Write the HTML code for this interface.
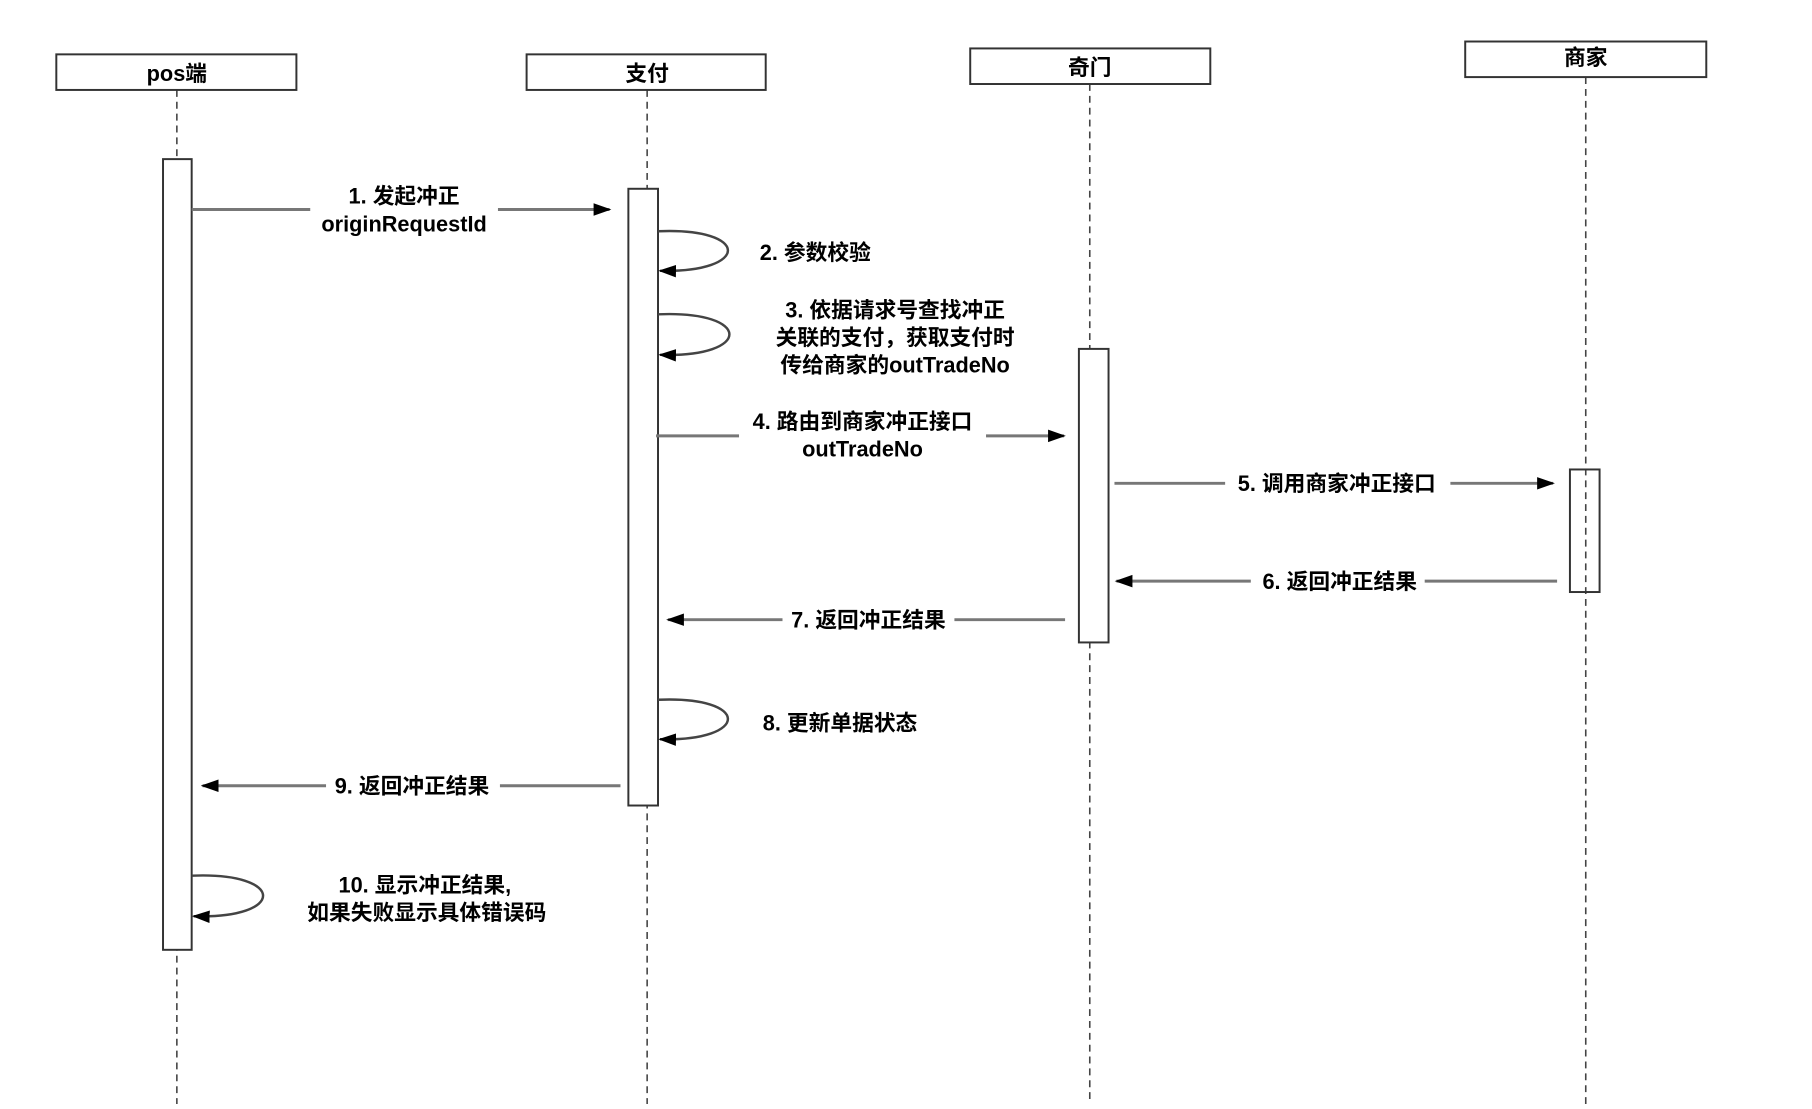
<!DOCTYPE html>
<html><head><meta charset="utf-8"><style>
html,body{margin:0;padding:0;background:#fff}
svg text{font-family:"Liberation Sans","Noto Sans CJK SC",sans-serif;font-weight:bold;font-size:22px;fill:#000}
</style></head><body>
<svg width="1812" height="1104" viewBox="0 0 1834 1117" preserveAspectRatio="none" xmlns="http://www.w3.org/2000/svg">
<defs>
<marker id="b" viewBox="0 0 10 10" refX="9" refY="5" markerWidth="18" markerHeight="18" orient="auto" markerUnits="userSpaceOnUse"><path d="M0,1.5 L10,5 L0,8.5 z" fill="#000"/></marker>
</defs>
<g stroke="#444" stroke-width="1.6" stroke-dasharray="7,5" fill="none">
<line x1="179" y1="91" x2="179" y2="1117"/>
<line x1="655" y1="91" x2="655" y2="1117"/>
<line x1="1103" y1="85" x2="1103" y2="1117"/>
<line x1="1605" y1="78" x2="1605" y2="1117"/>
</g>
<g stroke="#333" stroke-width="2" fill="#fff">
<rect x="57" y="55" width="243" height="36"/>
<rect x="533" y="55" width="242" height="36"/>
<rect x="982" y="49" width="243" height="36"/>
<rect x="1483" y="42" width="244" height="36"/>
<rect x="165" y="161" width="29" height="800"/>
<rect x="636" y="191" width="30" height="624"/>
<rect x="1092" y="353" width="30" height="297"/>
<rect x="1589" y="475" width="30" height="124" fill="none"/>
</g>
<g text-anchor="middle">
<text x="179" y="82">pos端</text>
<text x="655" y="82">支付</text>
<text x="1103" y="76">奇门</text>
<text x="1605" y="66">商家</text>
</g>
<g stroke="#777" stroke-width="3" fill="none">
<line x1="194" y1="212" x2="617" y2="212" marker-end="url(#b)"/>
<line x1="664" y1="441" x2="1077" y2="441" marker-end="url(#b)"/>
<line x1="1128" y1="489" x2="1572" y2="489" marker-end="url(#b)"/>
<line x1="1576" y1="588" x2="1130" y2="588" marker-end="url(#b)"/>
<line x1="1078" y1="627" x2="676" y2="627" marker-end="url(#b)"/>
<line x1="628" y1="795" x2="205" y2="795" marker-end="url(#b)"/>
</g>
<g stroke="#444" stroke-width="2.5" fill="none">
<path d="M666,234 C760,230 760,276 668,274" marker-end="url(#b)"/>
<path d="M666,318 C762,314 762,362 668,359" marker-end="url(#b)"/>
<path d="M666,708 C760,704 760,750 668,748" marker-end="url(#b)"/>
<path d="M194,886 C290,882 290,930 196,927" marker-end="url(#b)"/>
</g>
<g fill="#fff">
<rect x="314" y="178" width="190" height="58"/>
<rect x="748" y="405" width="250" height="58"/>
<rect x="1240" y="474" width="228" height="30"/>
<rect x="1266" y="573" width="176" height="30"/>
<rect x="792" y="612" width="174" height="30"/>
<rect x="330" y="780" width="176" height="30"/>
</g>
<g text-anchor="middle">
<text x="409" y="206">1. 发起冲正</text>
<text x="409" y="234">originRequestId</text>
<text x="906" y="321">3. 依据请求号查找冲正</text>
<text x="906" y="349">关联的支付，获取支付时</text>
<text x="906" y="377">传给商家的outTradeNo</text>
<text x="873" y="434">4. 路由到商家冲正接口</text>
<text x="873" y="462">outTradeNo</text>
<text x="1353" y="497">5.  调用商家冲正接口</text>
<text x="1356" y="596">6. 返回冲正结果</text>
<text x="879" y="635">7. 返回冲正结果</text>
<text x="417" y="803">9. 返回冲正结果</text>
<text x="430" y="903">10. 显示冲正结果,</text>
<text x="432" y="931">如果失败显示具体错误码</text>
</g>
<text x="769" y="263">2. 参数校验</text>
<text x="772" y="739">8. 更新单据状态</text>
</svg>
</body></html>
